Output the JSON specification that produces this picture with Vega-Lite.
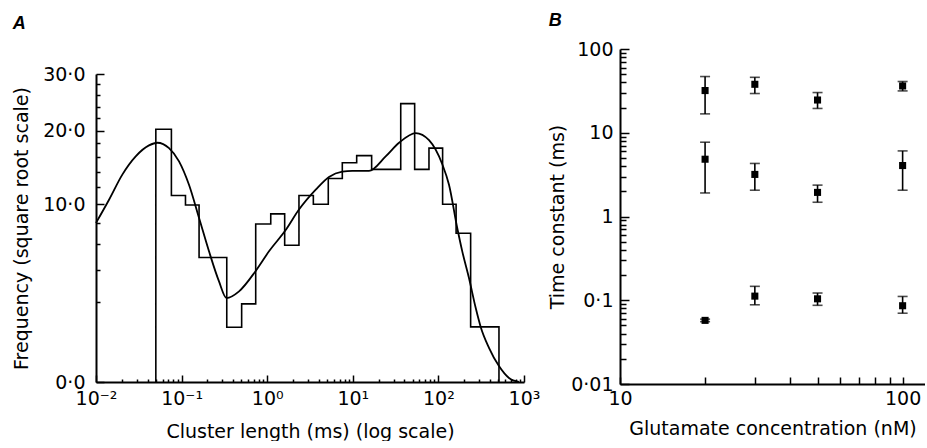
{
  "$schema": "https://vega.github.io/schema/vega-lite/v6.json",
  "padding": {"left": 12, "top": 12, "right": 0, "bottom": 0},
  "background": "white",
  "bounds": "flush",
  "spacing": 96,
  "config": {
    "view": {"stroke": null},
    "font": "DejaVu Sans",
    "axis": {
      "domainColor": "black", "domainWidth": 2, "tickColor": "black", "tickWidth": 1.5,
      "labelColor": "black", "titleColor": "black", "labelFont": "DejaVu Sans", "labelFontSize": 19,
      "titleFont": "DejaVu Sans", "titleFontSize": 19, "titleFontWeight": "normal", "grid": false,
      "labelOverlap": false, "labelFlush": false, "labelBound": false
    }
  },
  "hconcat": [
    {
      "width": 428,
      "height": 333,
      "title": {"text": "A", "anchor": "start", "frame": "bounds", "font": "Liberation Sans", "fontSize": 18, "fontWeight": "bold", "fontStyle": "italic", "offset": 16, "color": "black"},
      "encoding": {
        "x": {"field": "ms", "type": "quantitative",
          "scale": {"type": "log", "domain": [0.01, 1000]},
          "axis": {
            "title": "Cluster length (ms) (log scale)",
            "values": [0.01,0.02,0.03,0.04,0.05,0.06,0.07,0.08,0.09,0.1,0.2,0.3,0.4,0.5,0.6,0.7,0.8,0.9,1,2,3,4,5,6,7,8,9,10,20,30,40,50,60,70,80,90,100,200,300,400,500,600,700,800,900,1000],
            "labelExpr": "datum.value == 0.01 ? '10⁻²' : datum.value == 0.1 ? '10⁻¹' : datum.value == 1 ? '10⁰' : datum.value == 10 ? '10¹' : datum.value == 100 ? '10²' : datum.value == 1000 ? '10³' : ''",
            "tickSize": {"condition": {"test": "indexof([0.01,0.1,1,10,100,1000], datum.value) >= 0", "value": -7}, "value": -3},
            "labelPadding": 14,
            "titlePadding": 10
          }},
        "y": {"field": "freq", "type": "quantitative",
          "scale": {"type": "sqrt", "domain": [0, 30], "range": [333, 25]},
          "axis": {
            "title": "Frequency (square root scale)",
            "values": [0,2,4,6,8,10,12,14,16,18,20,22,24,26,28,30],
            "labelExpr": "datum.value == 0 ? '0·0' : datum.value == 10 ? '10·0' : datum.value == 20 ? '20·0' : datum.value == 30 ? '30·0' : ''",
            "tickSize": {"condition": {"test": "datum.value % 10 == 0", "value": -8}, "value": -4},
            "labelPadding": 19,
            "titlePadding": 11
          }}
      },
      "layer": [
        {
          "data": {"values": [
            {"i": 0, "ms": 0.05, "freq": 0},
            {"i": 1, "ms": 0.05, "freq": 20.2},
            {"i": 2, "ms": 0.076, "freq": 11.0},
            {"i": 3, "ms": 0.111, "freq": 9.9},
            {"i": 4, "ms": 0.16, "freq": 4.9},
            {"i": 5, "ms": 0.337, "freq": 0.95},
            {"i": 6, "ms": 0.503, "freq": 1.93},
            {"i": 7, "ms": 0.734, "freq": 7.9},
            {"i": 8, "ms": 1.1, "freq": 8.94},
            {"i": 9, "ms": 1.6, "freq": 5.92},
            {"i": 10, "ms": 2.35, "freq": 11.0},
            {"i": 11, "ms": 3.46, "freq": 10.0},
            {"i": 12, "ms": 5.17, "freq": 13.1},
            {"i": 13, "ms": 7.54, "freq": 15.2},
            {"i": 14, "ms": 11.1, "freq": 16.2},
            {"i": 15, "ms": 16.6, "freq": 14.3},
            {"i": 16, "ms": 36.3, "freq": 24.5},
            {"i": 17, "ms": 52.8, "freq": 14.3},
            {"i": 18, "ms": 77.6, "freq": 17.3},
            {"i": 19, "ms": 112, "freq": 10.0},
            {"i": 20, "ms": 161, "freq": 7.0},
            {"i": 21, "ms": 238, "freq": 0.96},
            {"i": 22, "ms": 510, "freq": 0}
          ]},
          "mark": {"type": "line", "interpolate": "step-after", "color": "black", "strokeWidth": 1.6},
          "encoding": {
            "order": {"field": "i", "type": "quantitative"}
          }
        },
        {
          "data": {"values": [
            {"ms": 0.01, "freq": 8.0},
            {"ms": 0.0142, "freq": 10.5},
            {"ms": 0.0203, "freq": 13.6},
            {"ms": 0.0291, "freq": 16.1},
            {"ms": 0.0416, "freq": 17.7},
            {"ms": 0.052, "freq": 18.1},
            {"ms": 0.0713, "freq": 17.3},
            {"ms": 0.0933, "freq": 15.4},
            {"ms": 0.122, "freq": 12.3},
            {"ms": 0.16, "freq": 8.5},
            {"ms": 0.209, "freq": 5.4},
            {"ms": 0.2735, "freq": 3.2},
            {"ms": 0.335, "freq": 2.23},
            {"ms": 0.469, "freq": 2.6},
            {"ms": 0.734, "freq": 3.9},
            {"ms": 1.05, "freq": 5.4},
            {"ms": 1.644, "freq": 7.3},
            {"ms": 2.35, "freq": 9.4},
            {"ms": 3.69, "freq": 11.7},
            {"ms": 5.27, "freq": 13.3},
            {"ms": 7.54, "freq": 14.0},
            {"ms": 9.86, "freq": 14.1},
            {"ms": 15.45, "freq": 14.1},
            {"ms": 24.2, "freq": 16.1},
            {"ms": 34.7, "freq": 18.1},
            {"ms": 54.3, "freq": 19.6},
            {"ms": 77.7, "freq": 18.5},
            {"ms": 111, "freq": 15.0},
            {"ms": 133, "freq": 12.3},
            {"ms": 166, "freq": 7.5},
            {"ms": 190, "freq": 5.4},
            {"ms": 228, "freq": 3.4},
            {"ms": 273, "freq": 1.73},
            {"ms": 312, "freq": 0.96},
            {"ms": 390, "freq": 0.37},
            {"ms": 510, "freq": 0.08},
            {"ms": 668, "freq": 0.005},
            {"ms": 871, "freq": 0}
          ]},
          "mark": {"type": "line", "interpolate": "monotone", "color": "black", "strokeWidth": 1.8}
        }
      ]
    },
    {
      "width": 305,
      "height": 335,
      "title": {"text": "B", "anchor": "start", "frame": "bounds", "font": "Liberation Sans", "fontSize": 18, "fontWeight": "bold", "fontStyle": "italic", "offset": 10, "color": "black"},
      "data": {"values": [
        {"conc": 20, "tau": 31.9, "lo": 16.8, "hi": 46.9},
        {"conc": 30, "tau": 37.9, "lo": 29.4, "hi": 45.9},
        {"conc": 50, "tau": 24.6, "lo": 19.5, "hi": 30.2},
        {"conc": 100, "tau": 36.2, "lo": 31.6, "hi": 40.9},
        {"conc": 20, "tau": 4.83, "lo": 1.91, "hi": 7.71},
        {"conc": 30, "tau": 3.18, "lo": 2.06, "hi": 4.30},
        {"conc": 50, "tau": 1.94, "lo": 1.48, "hi": 2.37},
        {"conc": 100, "tau": 4.06, "lo": 2.06, "hi": 6.07},
        {"conc": 20, "tau": 0.0575, "lo": 0.0555, "hi": 0.0595},
        {"conc": 30, "tau": 0.112, "lo": 0.0883, "hi": 0.1466},
        {"conc": 50, "tau": 0.104, "lo": 0.087, "hi": 0.122},
        {"conc": 100, "tau": 0.086, "lo": 0.070, "hi": 0.111}
      ]},
      "encoding": {
        "x": {"field": "conc", "type": "quantitative",
          "scale": {"type": "log", "domain": [10, 120]},
          "axis": {
            "title": "Glutamate concentration (nM)",
            "values": [10,20,30,40,50,60,70,80,90,100],
            "labelExpr": "datum.value == 10 ? '10' : datum.value == 100 ? '100' : ''",
            "tickSize": -7,
            "labelPadding": 12,
            "titlePadding": 11
          }}
      },
      "layer": [
        {
          "mark": {"type": "errorbar", "ticks": {"size": 10, "thickness": 1.6, "color": "black"}, "rule": {"strokeWidth": 1.6, "color": "black"}, "color": "black"},
          "encoding": {
            "y": {"field": "lo", "type": "quantitative",
              "scale": {"type": "log", "domain": [0.01, 100]},
              "axis": {"title": "Time constant (ms)"}},
            "y2": {"field": "hi"}
          }
        },
        {
          "mark": {"type": "square", "size": 50, "color": "black", "filled": true, "opacity": 1},
          "encoding": {
            "y": {"field": "tau", "type": "quantitative",
              "scale": {"type": "log", "domain": [0.01, 100]},
              "axis": {
                "title": "Time constant (ms)",
                "values": [0.01,0.02,0.03,0.04,0.05,0.06,0.07,0.08,0.09,0.1,0.2,0.3,0.4,0.5,0.6,0.7,0.8,0.9,1,2,3,4,5,6,7,8,9,10,20,30,40,50,60,70,80,90,100],
                "labelExpr": "datum.value == 0.01 ? '0·01' : datum.value == 0.1 ? '0·1' : datum.value == 1 ? '1' : datum.value == 10 ? '10' : datum.value == 100 ? '100' : ''",
                "tickSize": {"condition": {"test": "indexof([0.01,0.1,1,10,100], datum.value) >= 0", "value": -9}, "value": -6},
                "labelPadding": 16,
                "titlePadding": 3
              }}
          }
        }
      ]
    }
  ]
}
